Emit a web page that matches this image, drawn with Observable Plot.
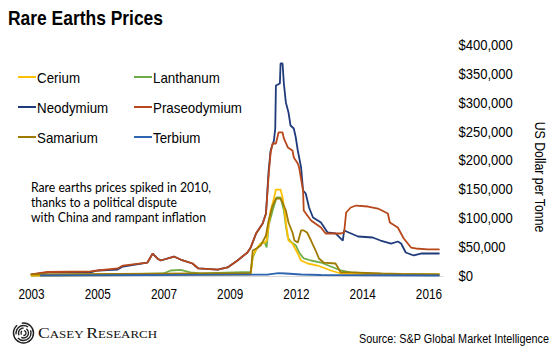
<!DOCTYPE html>
<html><head><meta charset="utf-8">
<script src="https://cdn.jsdelivr.net/npm/d3@7"></script>
<script src="https://cdn.jsdelivr.net/npm/@observablehq/plot@0.6"></script>
<style>
body{margin:0;background:#fff;}
#wrap{position:relative;width:560px;height:358px;overflow:hidden;}
</style></head><body><div id="wrap"></div>
<script>
// x positions are in axis-label units (0 = "2003" label, 6 = "2016" label); prices in US$ thousands per tonne
const xTickLabels = ["2003","2005","2007","2009","2012","2014","2016"];
const yTicksK = [0,50,100,150,200,250,300,350,400];

const cerium = [[0,1.7],[3.31,3.5],[3.34,36.4],[3.40,48.5],[3.46,57.1],[3.52,58.9],[3.55,62.3],[3.58,88.3],[3.61,114.3],[3.66,135],[3.69,150.6],[3.76,150.6],[3.79,136.8],[3.82,114.3],[3.85,84.8],[3.88,62.3],[3.94,57.1],[4.02,39.8],[4.07,27.7],[4.17,22.5],[4.32,19],[4.52,10.4],[4.67,5.2],[5.0,4.3],[6.15,3.5]];
const lanthanum = [[0,1.7],[1.3,3.5],[1.99,5.2],[2.10,10.4],[2.25,11.3],[2.40,7],[2.55,5.2],[3.31,7.8],[3.34,32.9],[3.40,48.5],[3.46,57.1],[3.52,58.9],[3.55,50.2],[3.58,88.3],[3.64,114.3],[3.70,136.8],[3.76,136.8],[3.81,114.3],[3.84,88.3],[3.87,67.5],[3.91,60.6],[3.99,53.7],[4.04,41.6],[4.11,31.2],[4.22,27.7],[4.37,24.2],[4.52,17.3],[4.67,10.4],[4.82,7],[5.12,5.2],[5.58,3.5],[6.15,3.5]];
const neodymium = [[0,3.5],[0.26,7],[0.89,7],[1.00,10.4],[1.30,12],[1.38,17.3],[1.75,24.2],[1.83,39.8],[1.90,31.2],[1.95,27.7],[2.15,34.6],[2.25,29.4],[2.43,22.5],[2.52,13.9],[2.81,12],[2.96,15.6],[3.11,27.7],[3.26,41.6],[3.31,50.2],[3.39,74.5],[3.49,91.8],[3.54,109.1],[3.58,183.5],[3.61,218.2],[3.66,235.5],[3.68,256.3],[3.69,330.8],[3.75,334.2],[3.76,368.8],[3.79,368.8],[3.81,334.2],[3.84,301.4],[3.88,284],[3.91,261.5],[3.96,256.3],[3.99,240.7],[4.02,218.2],[4.07,188.7],[4.10,148.9],[4.14,143.7],[4.19,119.5],[4.25,102.2],[4.37,93.5],[4.47,76.2],[4.59,74.5],[4.70,62.3],[4.72,79.7],[4.79,76.2],[4.93,69.3],[5.15,67.5],[5.27,62.3],[5.43,57.1],[5.53,60.6],[5.58,57.1],[5.65,41.6],[5.77,36.4],[5.88,39.8],[6.15,39.8]];
const praseodymium = [[0,3.5],[0.24,7.8],[0.89,8.7],[1.00,10.4],[1.30,13.9],[1.38,19],[1.75,24.2],[1.83,39.8],[1.90,31.2],[1.95,27.7],[2.15,34.6],[2.25,29.4],[2.43,22.5],[2.52,13.9],[2.81,12],[2.96,15.6],[3.11,27.7],[3.26,41.6],[3.31,50.2],[3.39,74.5],[3.49,91.8],[3.54,109.1],[3.58,175],[3.61,214.7],[3.64,230.3],[3.69,230.3],[3.73,249.4],[3.79,249.4],[3.81,239],[3.87,223.4],[3.94,218.2],[3.96,206],[4.02,195.6],[4.04,188.7],[4.10,148.9],[4.11,114.3],[4.22,97],[4.37,84.8],[4.44,74.5],[4.67,74.5],[4.72,76.2],[4.75,110.8],[4.82,119.5],[4.90,122.9],[5.08,121.2],[5.23,117.7],[5.38,109.1],[5.41,93.5],[5.53,84.8],[5.62,65.8],[5.73,50.2],[5.80,48.5],[5.98,46.8],[6.15,46.8]];
const samarium = [[0,3.5],[2.55,5.2],[3.31,6],[3.34,45],[3.40,48.5],[3.46,53.7],[3.54,71],[3.58,97],[3.64,122.9],[3.69,135],[3.76,135],[3.79,128.1],[3.84,114.3],[3.88,93.5],[3.94,76.2],[3.97,62.3],[4.02,58.9],[4.07,79.7],[4.11,79.7],[4.16,76.2],[4.22,62.3],[4.29,45],[4.34,31.2],[4.41,24.2],[4.59,22.5],[4.67,7],[4.82,7],[5.27,5.2],[5.58,4.3],[6.15,3.5]];
const terbium = [[0.14,1.7],[3.58,3.5],[3.73,6],[3.84,5.2],[4.07,3.5],[4.37,2.6],[6.15,1.7]];

const seriesNames = ["Cerium","Lanthanum","Neodymium","Praseodymium","Samarium","Terbium"];
const seriesValues = [cerium, lanthanum, neodymium, praseodymium, samarium, terbium];
const seriesColors = ["#FFC000","#70AD47","#1F3B7B","#B8471B","#A07A00","#2F64AE"];
const drawOrder = ["Neodymium","Praseodymium","Lanthanum","Cerium","Samarium","Terbium"];

const titleText = "Rare Earths Prices";
const yAxisTitle = "US Dollar per Tonne";
const noteLines = ["Rare earths prices spiked in 2010,","thanks to a political dispute","with China and rampant inflation"];
const brandText = [["C","ASEY "],["R","ESEARCH"]];
const sourceText = "Source: S&P Global Market Intelligence";

const rows = seriesNames.map((name, i) => seriesValues[i].map(([u, k]) => ({series: name, u, k})));
const fmt = d3.format(",");

const chart = Plot.plot({
  width: 560,
  height: 358,
  marginLeft: 31,
  marginRight: 117,
  marginTop: 45,
  marginBottom: 82,
  style: {fontSize: "14px", fontFamily: "'Liberation Sans', Arial, sans-serif", color: "#000", background: "#fff"},
  x: {domain: [0, 6.22]},
  y: {domain: [0, 400]},
  marks: [
    Plot.ruleY([0], {stroke: "#d9d9d9", strokeWidth: 1.2}),
    ...drawOrder.map(name => {
      const i = seriesNames.indexOf(name);
      return Plot.line(rows[i], {x: "u", y: "k", stroke: seriesColors[i], strokeWidth: 1.8, strokeLinejoin: "miter"});
    }),
    Plot.axisX(d3.range(xTickLabels.length), {tickFormat: d => xTickLabels[d], tickSize: 0, tickPadding: 13, label: null, fill: "#000"}),
    Plot.axisY(yTicksK, {anchor: "right", tickFormat: d => "$" + fmt(d * 1000), tickSize: 0, tickPadding: 15, label: null, fill: "#000"})
  ]
});
document.getElementById("wrap").appendChild(chart);
const svg = d3.select(chart);

function squeeze(sel, ratio) {
  sel.each(function(){ const w = this.getComputedTextLength(); this.setAttribute("textLength", (w*ratio).toFixed(1)); this.setAttribute("lengthAdjust","spacingAndGlyphs"); });
}
squeeze(svg.selectAll('g[aria-label="x-axis tick label"] text'), 0.84);
squeeze(svg.selectAll('g[aria-label="y-axis tick label"] text'), 0.93);

const ov = svg.append("g").attr("font-family", "'Liberation Sans', Arial, sans-serif").attr("fill", "#000").attr("text-anchor", "start");

// title
ov.append("text").attr("x", 8).attr("y", 25).attr("font-size", 21).attr("font-weight", "bold").text(titleText)
  .call(s => squeeze(s, 0.83));

// legend
seriesNames.forEach((name, i) => {
  const col = i % 2, row = Math.floor(i / 2);
  const x0 = col ? 134 : 18, yc = 77 + row * 30;
  ov.append("line").attr("x1", x0).attr("x2", x0 + 18).attr("y1", yc).attr("y2", yc)
    .attr("stroke", seriesColors[i]).attr("stroke-width", 2);
  ov.append("text").attr("x", x0 + 19).attr("y", yc + 5.5).attr("font-size", 15).text(name)
    .call(s => squeeze(s, 0.89));
});

// annotation
const noteW = [180, 146, 175];
noteLines.forEach((t, i) => {
  ov.append("text").attr("x", 31).attr("y", 192 + i * 15).attr("font-family", "Lato, 'Open Sans', sans-serif")
    .attr("font-size", 12.5).attr("textLength", noteW[i]).attr("lengthAdjust", "spacingAndGlyphs").text(t);
});

// y-axis title
ov.append("text").attr("transform", "translate(535,177) rotate(90)").attr("text-anchor", "middle")
  .attr("font-size", 14).text(yAxisTitle).call(s => squeeze(s, 0.88));

// brand
const logo = ov.append("g").attr("fill", "none").attr("stroke", "#222");
[[2.5,1.3,"4 2"],[5,1.4,"10 3"],[7.5,1.4,"18 4"],[10,1.5,"40 5"]].forEach(([r, w, da]) => {
  logo.append("circle").attr("cx", 23.5).attr("cy", 333).attr("r", r).attr("stroke-width", w).attr("stroke-dasharray", da);
});
const brand = ov.append("text").attr("x", 38).attr("y", 338).attr("font-family", "'Liberation Serif', 'DejaVu Serif', serif").attr("fill", "#111");
brandText.forEach(([cap, rest]) => {
  brand.append("tspan").attr("font-size", 15).text(cap);
  brand.append("tspan").attr("font-size", 11).text(rest);
});
brand.attr("textLength", 119).attr("lengthAdjust", "spacingAndGlyphs");

// source
ov.append("text").attr("x", 549).attr("y", 343).attr("text-anchor", "end").attr("font-size", 12)
  .attr("textLength", 190).attr("lengthAdjust", "spacingAndGlyphs").text(sourceText);
</script>
</body></html>
